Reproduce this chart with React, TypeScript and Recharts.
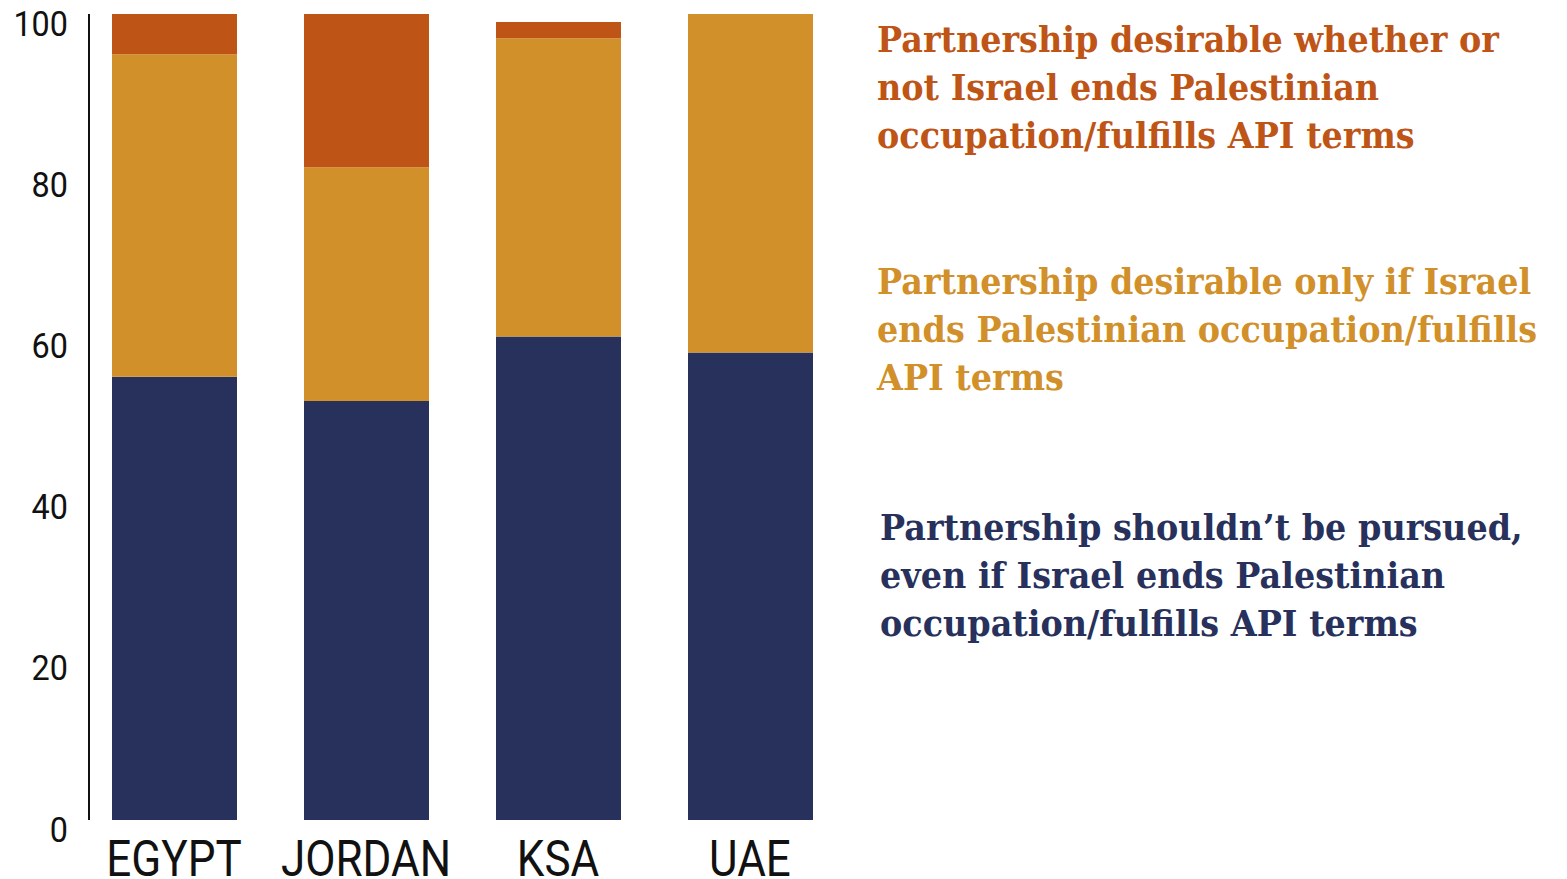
import React from 'react';
import { BarChart, Bar, XAxis, YAxis, Legend } from 'recharts';

const countries = ['EGYPT', 'JORDAN', 'KSA', 'UAE'];
const notPursued = [55, 52, 60, 58];
const onlyIf = [40, 29, 37, 42];
const whetherOrNot = [5, 19, 2, 0];
const yTicks = [0, 20, 40, 60, 80, 100];

const seriesNames = [
  'Partnership shouldn\u2019t be pursued,\neven if Israel ends Palestinian\noccupation/fulfills API terms',
  'Partnership desirable only if Israel\nends Palestinian occupation/fulfills\nAPI terms',
  'Partnership desirable whether or\nnot Israel ends Palestinian\noccupation/fulfills API terms',
];
const colors = ['#27315C', '#D19029', '#BE5516'];

const data = countries.map((c, i) => ({
  country: c,
  notPursued: notPursued[i],
  onlyIf: onlyIf[i],
  whetherOrNot: whetherOrNot[i],
}));

const YTick = (props: any) => {
  const { y, payload } = props;
  return (
    <text
      x={68}
      y={y + 9}
      textAnchor="end"
      dominantBaseline="central"
      fontFamily="Roboto, sans-serif"
      fontSize={36}
      fill="#111"
      transform={`translate(68 0) scale(0.9 1) translate(-68 0)`}
    >
      {payload.value}
    </text>
  );
};

const XTick = (props: any) => {
  const { x, y, payload } = props;
  return (
    <text
      x={x}
      y={y + 56}
      textAnchor="middle"
      fontFamily="Roboto, sans-serif"
      fontSize={50}
      fill="#111"
      transform={`translate(${x} 0) scale(0.88 1) translate(${-x} 0)`}
    >
      {payload.value}
    </text>
  );
};

const LegendContent = () => {
  const blocks = [
    { idx: 2, top: 16, left: 31 },
    { idx: 1, top: 258, left: 31 },
    { idx: 0, top: 504, left: 34 },
  ];
  return (
    <div style={{ position: 'relative', width: 721, height: 879 }}>
      {blocks.map((b) => (
        <div
          key={b.idx}
          style={{
            position: 'absolute',
            top: b.top,
            left: b.left,
            whiteSpace: 'pre',
            fontFamily: '"DejaVu Serif", serif',
            fontWeight: 'bold',
            fontSize: 35,
            lineHeight: '48px',
            color: colors[b.idx],
            transform: 'scaleX(0.955)',
            transformOrigin: 'left top',
            textAlign: 'left',
          }}
        >
          {seriesNames[b.idx]}
        </div>
      ))}
    </div>
  );
};

export default function App() {
  return (
    <div style={{ position: 'absolute', left: 0, top: 0, background: '#fff' }}>
      <BarChart
        width={1567}
        height={879}
        data={data}
        margin={{ top: 14, right: 0, bottom: 29, left: 0 }}
      >
        <YAxis
          type="number"
          domain={[0, 100]}
          ticks={yTicks}
          width={89}
          tickLine={false}
          tickSize={0}
          axisLine={{ stroke: '#111', strokeWidth: 2 }}
          tick={<YTick />}
          interval={0}
        />
        <XAxis
          dataKey="country"
          height={30}
          axisLine={false}
          tickLine={false}
          tickSize={0}
          tickMargin={0}
          tick={<XTick />}
          interval={0}
          padding={{ left: -11, right: 0 }}
        />
        <Legend
          layout="vertical"
          align="right"
          verticalAlign="top"
          content={<LegendContent />}
          wrapperStyle={{ position: 'absolute', left: 846, top: 0, width: 721, height: 879 }}
        />
        <Bar dataKey="notPursued" name={seriesNames[0]} stackId="a" fill={colors[0]} barSize={125} isAnimationActive={false} />
        <Bar dataKey="onlyIf" name={seriesNames[1]} stackId="a" fill={colors[1]} barSize={125} isAnimationActive={false} />
        <Bar dataKey="whetherOrNot" name={seriesNames[2]} stackId="a" fill={colors[2]} barSize={125} isAnimationActive={false} />
      </BarChart>
    </div>
  );
}
